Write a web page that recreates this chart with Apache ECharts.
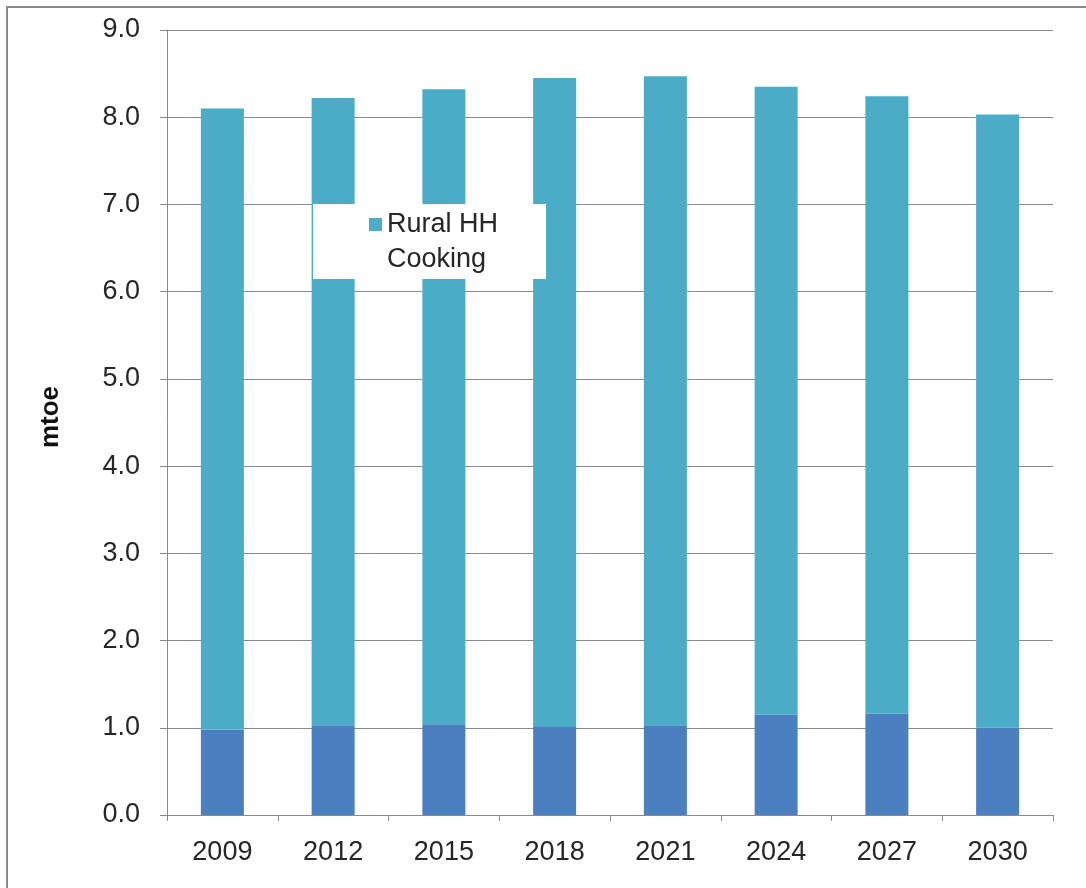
<!DOCTYPE html>
<html>
<head>
<meta charset="utf-8">
<script src="https://cdn.jsdelivr.net/npm/echarts@6/dist/echarts.min.js"></script>
<style>html,body{margin:0;padding:0;background:#fff}#c{width:1086px;height:888px}</style>
</head>
<body>
<div id="c"></div>
<script>
var categories = ['2009', '2012', '2015', '2018', '2021', '2024', '2027', '2030'];
var baseValues = [0.98, 1.03, 1.04, 1.01, 1.03, 1.15, 1.16, 1.00];
var ruralCooking = [7.12, 7.19, 7.28, 7.44, 7.44, 7.20, 7.08, 7.03];
var yTicks = { min: 0, max: 9, interval: 1 };
var yAxisName = 'mtoe';
var legendName = 'Rural HH Cooking';

var FONT = '"Liberation Sans", Arial, sans-serif';
var chart = echarts.init(document.getElementById('c'), null, { renderer: 'canvas' });
chart.setOption({
  animation: false,
  backgroundColor: '#fff',
  graphic: [
    { type: 'rect', z: 0, shape: { x: 7, y: 7, width: 1200, height: 1000 },
      style: { fill: 'none', stroke: '#8a8a8a', lineWidth: 2 } },
    { type: 'text', z: 10, rotation: Math.PI / 2, x: 51, y: 417,
      style: { text: yAxisName, font: 'bold 26px ' + FONT, fill: '#111', align: 'center', verticalAlign: 'middle' } }
  ],
  grid: { left: 167, right: 33, top: 30, bottom: 73, containLabel: false },
  legend: {
    data: [{ name: legendName }],
    left: 313, top: 204,
    padding: [3, 48, 2, 56],
    backgroundColor: '#fff',
    itemWidth: 13, itemHeight: 70,
    icon: 'path://M0,11L13,11L13,24L0,24Z M0,0L0.01,0 M0,70L0.01,70',
    textStyle: { fontFamily: FONT, fontSize: 27, lineHeight: 35, color: '#262626' },
    formatter: function () { return 'Rural HH\nCooking'; },
    z: 20
  },
  xAxis: {
    type: 'category',
    data: categories,
    axisLine: { lineStyle: { color: '#8a8a8a', width: 1 } },
    axisTick: { show: true, length: 6, lineStyle: { color: '#8a8a8a' } },
    axisLabel: { fontFamily: FONT, fontSize: 27, color: '#262626', margin: 24 }
  },
  yAxis: {
    type: 'value',
    min: yTicks.min, max: yTicks.max, interval: yTicks.interval,
    axisLine: { show: true, lineStyle: { color: '#8a8a8a', width: 1 } },
    axisTick: { show: true, length: 7, lineStyle: { color: '#8a8a8a' } },
    axisLabel: { fontFamily: FONT, fontSize: 27, color: '#262626', margin: 27, padding: [5, 0, 0, 0],
      formatter: function (v) { return v.toFixed(1); } },
    splitLine: { show: true, lineStyle: { color: '#8a8a8a', width: 1 } }
  },
  series: [
    { name: 'Base', type: 'bar', stack: 'total', data: baseValues, barWidth: 43,
      itemStyle: { color: '#4a7fc0' } },
    { name: legendName, type: 'bar', stack: 'total', data: ruralCooking, barWidth: 43,
      itemStyle: { color: '#4aacc7' } }
  ]
});
</script>
</body>
</html>
